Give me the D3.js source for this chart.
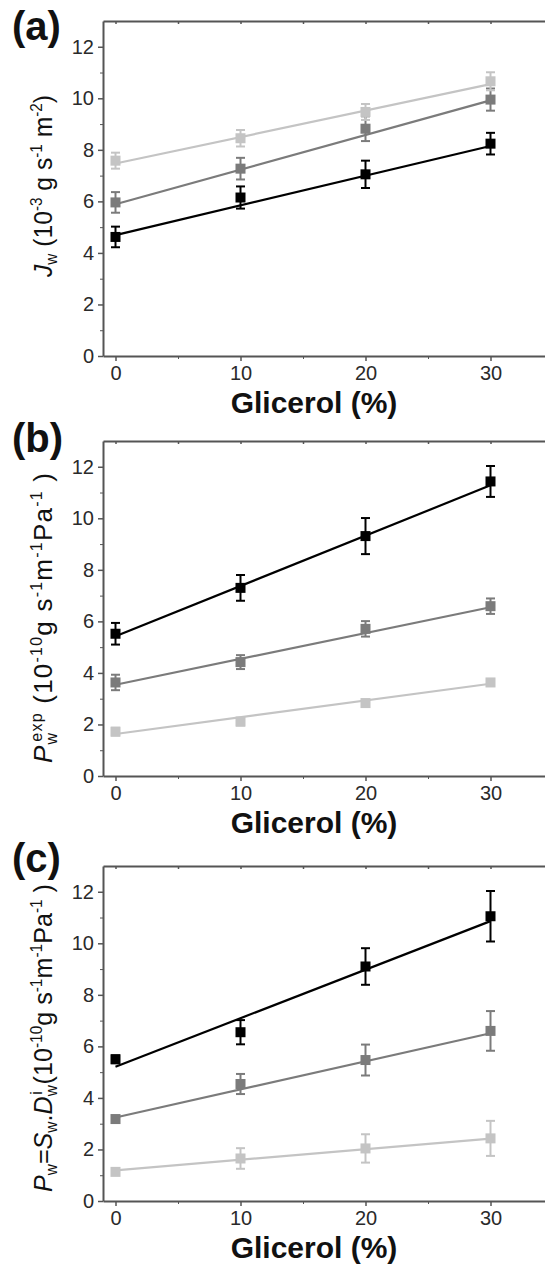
<!DOCTYPE html>
<html lang="en">
<head>
    <meta charset="UTF-8">
    <title>Glicerol panels</title>
    <style>
        body { margin: 0; background: #fff; }
        svg { display: block; font-family: Arial, "Liberation Sans", sans-serif; }
        .tick text { font-size: 20px; fill: #2a2a2a; }
        .domain, .tick line { stroke: #555; }
    </style>
</head>
<body>
    <svg id="chart" width="545" height="1264"></svg>
    <script src="https://d3js.org/d3.v7.min.js"></script>
    <script>
        // x positions (% glicerol) and ticks
        var xValues = [0, 10, 20, 30];
        var fitX = [0, 30];
        var xTicks = [0, 10, 20, 30];
        var xMinorTicks = [5, 15, 25];
        var yTicks = [0, 2, 4, 6, 8, 10, 12];
        var yMinorTicks = [1, 3, 5, 7, 9, 11];
        var seriesColors = ["#000000", "#7b7b7b", "#c4c4c4"];

        // (a) Jw
        var jwBlack = [4.62, 6.15, 7.05, 8.24];
        var jwBlackErr = [0.40, 0.43, 0.53, 0.42];
        var jwMid = [5.96, 7.27, 8.82, 9.95];
        var jwMidErr = [0.40, 0.42, 0.48, 0.43];
        var jwLight = [7.58, 8.45, 9.47, 10.66];
        var jwLightErr = [0.31, 0.32, 0.31, 0.35];
        var jwFitBlack = [4.69, 8.15];
        var jwFitMid = [5.89, 9.92];
        var jwFitLight = [7.47, 10.55];

        // (b) Pw exp
        var peBlack = [5.52, 7.30, 9.31, 11.43];
        var peBlackErr = [0.42, 0.50, 0.70, 0.60];
        var peMid = [3.63, 4.42, 5.71, 6.59];
        var peMidErr = [0.30, 0.27, 0.30, 0.30];
        var peLight = [1.72, 2.11, 2.83, 3.63];
        var peLightErr = [0.15, 0.15, 0.12, 0.12];
        var peFitBlack = [5.42, 11.28];
        var peFitMid = [3.54, 6.55];
        var peFitLight = [1.63, 3.58];

        // (c) Pw = Sw.Dw
        var pcBlack = [5.50, 6.55, 9.10, 11.05];
        var pcBlackErr = [0.15, 0.47, 0.71, 0.98];
        var pcMid = [3.18, 4.54, 5.47, 6.60];
        var pcMidErr = [0.10, 0.39, 0.60, 0.77];
        var pcLight = [1.13, 1.65, 2.04, 2.43];
        var pcLightErr = [0.10, 0.40, 0.55, 0.68];
        var pcFitBlack = [5.21, 10.86];
        var pcFitMid = [3.24, 6.51];
        var pcFitLight = [1.19, 2.42];

        var svg = d3.select("#chart");

        // label pieces: [text, style] where style: n normal, i italic, sub, sup
        var labelA = [["J", "i"], ["w", "sub"], [" (10", "n"], ["-3", "sup"], [" g s", "n"], ["-1", "sup"], [" m", "n"], ["-2", "sup"], [")", "n"]];
        var labelB = [["P", "i"], ["w", "sub"], ["exp", "supback"], [" (10", "n"], ["-10", "sup"], ["g s", "n"], ["-1", "sup"], ["m", "n"], ["-1", "sup"], ["Pa", "n"], ["-1", "sup"], [" )", "n"]];
        var labelC = [["P", "i"], ["w", "sub"], ["=", "n"], ["S", "i"], ["w", "sub"], [".", "n"], ["D", "i"], ["w", "sub"], ["i", "supback"], [" (10", "n"], ["-10", "sup"], ["g s", "n"], ["-1", "sup"], ["m", "n"], ["-1", "sup"], ["Pa", "n"], ["-1", "sup"], [" )", "n"]];

        var panels = [
            { tag: "(a)", top: 22, bottom: 356, tagY: 40, label: labelA, labelLen: 182, labelMid: 186, fit: "spacingAndGlyphs",
              series: [[jwBlack, jwBlackErr, jwFitBlack], [jwMid, jwMidErr, jwFitMid], [jwLight, jwLightErr, jwFitLight]] },
            { tag: "(b)", top: 442, bottom: 776, tagY: 452, label: labelB, labelLen: 290, labelMid: 618, fit: "spacing",
              series: [[peBlack, peBlackErr, peFitBlack], [peMid, peMidErr, peFitMid], [peLight, peLightErr, peFitLight]] },
            { tag: "(c)", top: 867, bottom: 1201, tagY: 872, label: labelC, labelLen: 308, labelMid: 1038, fit: "spacingAndGlyphs",
              series: [[pcBlack, pcBlackErr, pcFitBlack], [pcMid, pcMidErr, pcFitMid], [pcLight, pcLightErr, pcFitLight]] }
        ];

        panels.forEach(function(p) {
            var x = d3.scaleLinear().domain([-1, 35]).range([103, 553]);
            var y = d3.scaleLinear().domain([0, 13]).range([p.bottom, p.bottom - 13 * 25.77]);
            var g = svg.append("g");

            // axes
            g.append("g").attr("transform", "translate(0," + p.bottom + ")")
                .call(d3.axisBottom(x).tickValues(xTicks).tickSize(5).tickSizeOuter(0).tickPadding(5))
                .call(a => a.select(".domain").attr("stroke-width", 2))
                .call(a => a.selectAll(".tick line").attr("stroke-width", 1.5));
            g.append("g").attr("transform", "translate(0," + p.bottom + ")")
                .call(d3.axisBottom(x).tickValues(xMinorTicks).tickSize(3).tickSizeOuter(0).tickFormat(""))
                .call(a => a.select(".domain").remove());
            g.append("g").attr("transform", "translate(0," + y(13) + ")")
                .call(d3.axisTop(x).tickValues(xTicks.concat(xMinorTicks)).tickSize(-3).tickSizeOuter(0).tickFormat(""))
                .call(a => a.select(".domain").attr("stroke-width", 2))
                .call(a => a.selectAll(".tick line").attr("stroke-width", 1.5));
            g.append("g").attr("transform", "translate(103,0)")
                .call(d3.axisLeft(y).tickValues(yTicks).tickSize(5).tickSizeOuter(0).tickPadding(4))
                .call(a => a.select(".domain").attr("stroke-width", 2))
                .call(a => a.selectAll(".tick line").attr("stroke-width", 1.5));
            g.append("g").attr("transform", "translate(103,0)")
                .call(d3.axisLeft(y).tickValues(yMinorTicks).tickSize(3).tickFormat(""))
                .call(a => a.select(".domain").remove());

            // series: fit line, error bars, square markers
            p.series.forEach(function(s, i) {
                var col = seriesColors[i];
                var vals = s[0], errs = s[1], fit = s[2];
                g.append("path")
                    .datum(fitX.map((fx, k) => [fx, fit[k]]))
                    .attr("fill", "none")
                    .attr("stroke", col)
                    .attr("stroke-width", 2.2)
                    .attr("d", d3.line().x(d => x(d[0])).y(d => y(d[1])));
                var pts = xValues.map((xv, k) => ({ x: xv, y: vals[k], e: errs[k] }));
                var eb = g.append("g").attr("stroke", col).attr("stroke-width", 2);
                eb.selectAll(".v").data(pts).enter().append("line")
                    .attr("x1", d => x(d.x)).attr("x2", d => x(d.x))
                    .attr("y1", d => y(d.y - d.e)).attr("y2", d => y(d.y + d.e));
                eb.selectAll(".t").data(pts).enter().append("line")
                    .attr("x1", d => x(d.x) - 4.5).attr("x2", d => x(d.x) + 4.5)
                    .attr("y1", d => y(d.y + d.e)).attr("y2", d => y(d.y + d.e));
                eb.selectAll(".b").data(pts).enter().append("line")
                    .attr("x1", d => x(d.x) - 4.5).attr("x2", d => x(d.x) + 4.5)
                    .attr("y1", d => y(d.y - d.e)).attr("y2", d => y(d.y - d.e));
                g.selectAll(null).data(pts).enter().append("rect")
                    .attr("x", d => x(d.x) - 5).attr("y", d => y(d.y) - 5)
                    .attr("width", 10).attr("height", 10)
                    .attr("fill", col);
            });

            // x title
            g.append("text")
                .attr("x", 314).attr("y", p.bottom + 57)
                .attr("text-anchor", "middle")
                .attr("font-size", 30).attr("font-weight", "bold")
                .attr("fill", "#111")
                .text("Glicerol (%)");

            // panel tag
            g.append("text")
                .attr("x", 12).attr("y", p.tagY)
                .attr("font-size", 40).attr("font-weight", "bold")
                .attr("fill", "#111")
                .text(p.tag);

            // y title
            var t = g.append("text")
                .attr("transform", "translate(52," + p.labelMid + ") rotate(-90)")
                .attr("text-anchor", "middle")
                .attr("font-size", 26)
                .attr("fill", "#111");
            p.label.forEach(function(part) {
                var ts = t.append("tspan").text(part[0]);
                if (part[1] === "i") ts.attr("font-style", "italic");
                if (part[1] === "sub") ts.attr("font-size", 16).attr("baseline-shift", "-30%");
                if (part[1] === "sup") ts.attr("font-size", 16).attr("baseline-shift", "60%");
                if (part[1] === "supback") ts.attr("font-size", 16).attr("baseline-shift", "60%").attr("dx", -10);
            });
            t.attr("textLength", p.labelLen).attr("lengthAdjust", p.fit);
        });
    </script>
</body>
</html>
